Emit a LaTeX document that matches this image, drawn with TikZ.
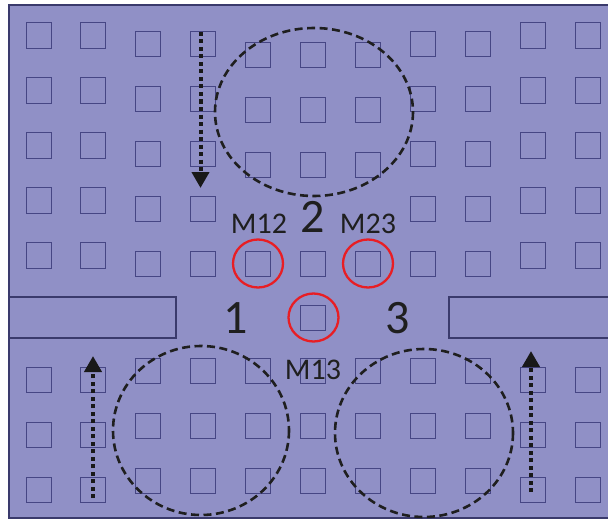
\documentclass[tikz,border=0pt]{standalone}
\usepackage{fontspec}
\setmainfont{Carlito}
\usetikzlibrary{arrows.meta,shapes.geometric}
\definecolor{plate}{RGB}{144,144,198}
\definecolor{edgeblue}{RGB}{70,70,132}
\definecolor{frameblue}{RGB}{58,58,108}
\definecolor{ringred}{RGB}{232,30,36}
\tikzset{
  cell/.style={draw=edgeblue, line width=1.2pt, minimum size=25.5pt, inner sep=0pt},
  bar/.style={draw=frameblue, line width=1.2pt},
  zone/.style={draw=black!88, line width=2.6pt, dash pattern=on 8pt off 4.5pt},
  ring/.style={draw=ringred, line width=2.3pt, minimum width=50pt, minimum height=48pt, ellipse, inner sep=0pt},
  flow/.style={draw=black!90, line width=4pt, dash pattern=on 4pt off 3.5pt,
    -{Triangle[width=17pt,length=16pt]}},
  small/.style={font=\fontsize{30}{30}\selectfont, text=black!88},
  big/.style={font=\fontsize{48}{48}\selectfont, text=black!88}
}
\begin{document}
\begin{tikzpicture}[x=1pt,y=-1pt]
  \useasboundingbox (0,0) rectangle (608,519);
  % plate
  \fill[white] (0,0) rectangle (608,519);
  \filldraw[fill=plate, draw=frameblue, line width=1.2pt] (9,5) rectangle (612,518);

  % outer columns, upper block
  \foreach \x [count=\i] in {39,93,533,588}
    \foreach \y [count=\j] in {35.5,90.5,145.5,200.5,255.5}
      \node[cell] (uo-\i-\j) at (\x,\y) {};
  % inner columns, upper block
  \foreach \x [count=\i] in {148,203,423,478}
    \foreach \y [count=\j] in {44,99,154,209,264}
      \node[cell] (ui-\i-\j) at (\x,\y) {};
  % central columns, upper block
  \foreach \x [count=\i] in {258,313,368}
    \foreach \y [count=\j] in {55,110,165,264}
      \node[cell] (uc-\i-\j) at (\x,\y) {};
  \node[cell] (mid) at (313,318) {};

  % outer columns, lower block
  \foreach \x [count=\i] in {39,93,533,588}
    \foreach \y [count=\j] in {380,435,490}
      \node[cell] (lo-\i-\j) at (\x,\y) {};
  % inner columns, lower block
  \foreach \x [count=\i] in {148,203,258,313,368,423,478}
    \foreach \y [count=\j] in {371,426,481}
      \node[cell] (li-\i-\j) at (\x,\y) {};

  % side bars
  \draw[bar] (9,297) rectangle (176,338);
  \draw[bar] (449,297) rectangle (612,338);

  % dashed zones
  \draw[zone] (314,112) ellipse [x radius=99, y radius=84];
  \draw[zone] (201,430.5) ellipse [x radius=88, y radius=84.5];
  \draw[zone] (424,433) ellipse [x radius=89, y radius=84];

  % red rings
  \node[ring] (m12) at (258,263.5) {};
  \node[ring] (m23) at (368,263.5) {};
  \node[ring] (m13) at (313.5,317.5) {};

  % labels
  \node[small, anchor=base] (t12) at (259,233) {M12};
  \node[small, anchor=base] (t23) at (368,233) {M23};
  \node[small, anchor=base] (t13) at (313,379) {M13};
  \node[big, anchor=base] (t2) at (313,232) {2};
  \node[big, anchor=base] (t1) at (236,333) {1};
  \node[big, anchor=base] (t3) at (398,333) {3};

  % flow arrows
  \coordinate (a1s) at (200.5,32);
  \coordinate (a1e) at (200.5,188);
  \coordinate (a2s) at (93,498);
  \coordinate (a2e) at (93,356);
  \coordinate (a3s) at (531,492);
  \coordinate (a3e) at (531,351);
  \draw[flow] (a1s) -- (a1e);
  \draw[flow] (a2s) -- (a2e);
  \draw[flow] (a3s) -- (a3e);
\end{tikzpicture}
\end{document}
